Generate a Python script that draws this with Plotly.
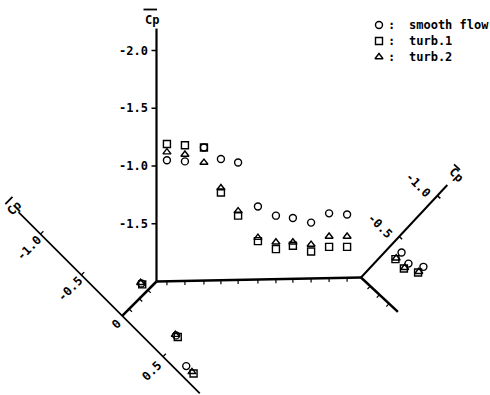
import numpy as np
import plotly.graph_objects as go

# pressure taps: position along each face (fraction of face width) and mean Cp
roof_pos = [0.051, 0.139, 0.232, 0.315, 0.399, 0.496, 0.584, 0.667, 0.756, 0.844, 0.932]
roof_smooth = [-1.05, -1.04, -1.16, -1.06, -1.03, -0.65, -0.57, -0.55, -0.51, -0.59, -0.58]
roof_turb1 = [-1.19, -1.18, -1.16, -0.77, -0.57, -0.35, -0.28, -0.31, -0.26, -0.30, -0.30]
roof_turb2 = [-1.12, -1.10, -1.03, -0.81, -0.61, -0.38, -0.34, -0.34, -0.32, -0.39, -0.39]

left_pos = [0.25, 0.50, 0.80]
left_smooth = [-0.08, 0.45, 0.70]
left_turb1 = [-0.07, 0.47, 0.79]
left_turb2 = [-0.09, 0.44, 0.77]

right_pos = [0.25, 0.50, 0.76]
right_smooth = [-0.41, -0.38, -0.45]
right_turb1 = [-0.33, -0.32, -0.38]
right_turb2 = [-0.34, -0.33, -0.39]

series_names = ["smooth flow", "turb.1", "turb.2"]
series_symbols = ["circle-open", "square-open", "triangle-up-open"]

roof_ticks = [-2.0, -1.5, -1.0, -0.5]
roof_ticktext = ["-2.0", "-1.5", "-1.0", "-1.5"]
left_ticks = [-1.0, -0.5, 0.0, 0.5]
left_ticktext = ["-1.0", "-0.5", "0", "0.5"]
right_ticks = [-0.5, -1.0]
right_ticktext = ["-0.5", "-1.0"]

# drawing geometry (paper pixels)
P0 = np.array([156.5, 281.5])   # roof / left face corner, Cp origin of vertical axis
P1 = np.array([361.0, 277.5])   # roof / right face corner
ROOF_SCALE = 115.5
LEFT_DIR = np.array([-1.0, 1.0]) / np.sqrt(2)
LEFT_CP = np.array([1.0, 1.0]) / np.sqrt(2)
LEFT_LEN = 48.5
LEFT_SCALE = 115.5
RIGHT_DIR = np.array([0.731, 0.682])
RIGHT_CP = np.array([-0.682, 0.731])
RIGHT_LEN = 50.5
RIGHT_SCALE = 112.0

FONT = dict(family="DejaVu Sans Mono", size=12, color="black", weight="bold")


def roof_xy(pos, cp):
    x = P0[0] + np.asarray(pos) * (P1[0] - P0[0])
    y = P0[1] + np.asarray(cp) * ROOF_SCALE
    return x, y


LEFT_END = P0 + LEFT_LEN * LEFT_DIR


def left_xy(pos, cp):
    pts = [P0 + p * LEFT_LEN * LEFT_DIR + c * LEFT_SCALE * LEFT_CP for p, c in zip(pos, cp)]
    pts = np.array(pts)
    return pts[:, 0], pts[:, 1]


def right_xy(pos, cp):
    pts = [P1 + p * RIGHT_LEN * RIGHT_DIR + c * RIGHT_SCALE * RIGHT_CP for p, c in zip(pos, cp)]
    pts = np.array(pts)
    return pts[:, 0], pts[:, 1]


def segs(pairs):
    xs, ys = [], []
    for a, b in pairs:
        xs += [a[0], b[0], None]
        ys += [a[1], b[1], None]
    return xs, ys


fig = go.Figure()


def add_lines(pairs, width):
    xs, ys = segs(pairs)
    fig.add_trace(go.Scatter(x=xs, y=ys, mode="lines", line=dict(color="black", width=width),
                             hoverinfo="skip", showlegend=False))


# vertical Cp axis of roof
top = P0 + np.array([0, -2.19 * ROOF_SCALE])
add_lines([(P0, top)], 2.2)
add_lines([((P0[0] - 5, P0[1] + t * ROOF_SCALE), (P0[0], P0[1] + t * ROOF_SCALE)) for t in roof_ticks], 1.5)

# roof face axis
add_lines([(P0, P1)], 2.5)
rx, _ = roof_xy(roof_pos, np.zeros(len(roof_pos)))
slope = (P1[1] - P0[1]) / (P1[0] - P0[0])
add_lines([((x, P0[1] + slope * (x - P0[0])), (x, P0[1] + slope * (x - P0[0]) + 4)) for x in rx], 1.2)

# left face axis and its Cp axis
add_lines([(P0, LEFT_END)], 2.5)
add_lines([(P0 + p * LEFT_LEN * LEFT_DIR, P0 + p * LEFT_LEN * LEFT_DIR + 4 * LEFT_CP) for p in left_pos], 1.2)
add_lines([(LEFT_END - 1.27 * LEFT_SCALE * LEFT_CP, LEFT_END + 0.95 * LEFT_SCALE * LEFT_CP)], 1.6)
perp_l = np.array([1.0, -1.0]) / np.sqrt(2)
add_lines([(LEFT_END + t * LEFT_SCALE * LEFT_CP, LEFT_END + t * LEFT_SCALE * LEFT_CP + 4 * perp_l)
           for t in left_ticks if t != 0], 1.3)

# right face axis and its Cp axis
RIGHT_END = P1 + RIGHT_LEN * RIGHT_DIR
add_lines([(P1, RIGHT_END)], 2.5)
add_lines([(P1 + p * RIGHT_LEN * RIGHT_DIR, P1 + p * RIGHT_LEN * RIGHT_DIR + 4 * RIGHT_CP) for p in right_pos], 1.2)
add_lines([(P1, P1 - 1.13 * RIGHT_SCALE * RIGHT_CP)], 2.0)
add_lines([(P1 + t * RIGHT_SCALE * RIGHT_CP, P1 + t * RIGHT_SCALE * RIGHT_CP + 4 * RIGHT_DIR)
           for t in right_ticks], 1.5)

# data points
face_data = [
    (roof_xy, roof_pos, [roof_smooth, roof_turb1, roof_turb2]),
    (left_xy, left_pos, [left_smooth, left_turb1, left_turb2]),
    (right_xy, right_pos, [right_smooth, right_turb1, right_turb2]),
]
for proj, pos, values in face_data:
    for name, sym, cp in zip(series_names, series_symbols, values):
        x, y = proj(pos, cp)
        fig.add_trace(go.Scatter(x=x, y=y, mode="markers", name=name, showlegend=False,
                                 marker=dict(symbol=sym, size=7, color="black", line=dict(width=1.4))))

annotations = []
# roof tick labels
for t, txt in zip(roof_ticks, roof_ticktext):
    annotations.append(dict(x=P0[0] - 7, y=P0[1] + t * ROOF_SCALE, text=txt, xanchor="right",
                            yanchor="middle", showarrow=False, font=FONT))
annotations.append(dict(x=152, y=20, text="Cp", showarrow=False, font=FONT))
add_lines([((143.5, 9.5), (157, 9.5))], 1.8)

# left labels
for t, txt in zip(left_ticks, left_ticktext):
    p = LEFT_END + t * LEFT_SCALE * LEFT_CP
    d = 10 if txt == "0" else 18
    p = p + d * LEFT_DIR + np.array([1.5, 1.5])
    annotations.append(dict(x=p[0], y=p[1], text=txt, textangle=-45, showarrow=False, font=FONT))
pl = LEFT_END - 1.32 * LEFT_SCALE * LEFT_CP
annotations.append(dict(x=pl[0], y=pl[1], text="Cp", textangle=-45, showarrow=False, font=FONT))
bar_c = pl + np.array([-5.5, -7.5])
add_lines([(bar_c - 5 * perp_l, bar_c + 5 * perp_l)], 1.8)

# right labels
for t, txt in zip(right_ticks, right_ticktext):
    p = P1 + t * RIGHT_SCALE * RIGHT_CP + np.array([-19, -11])
    annotations.append(dict(x=p[0], y=p[1], text=txt, textangle=45, showarrow=False, font=FONT))
pr = P1 - 1.25 * RIGHT_SCALE * RIGHT_CP
annotations.append(dict(x=pr[0], y=pr[1], text="Cp", textangle=45, showarrow=False, font=FONT))
bar_r = pr + np.array([0.5, -8])
add_lines([(bar_r - 4 * RIGHT_DIR, bar_r + 4 * RIGHT_DIR)], 1.8)

# key
key_y = [25, 41, 57]
fig.add_trace(go.Scatter(x=[379] * 3, y=key_y, mode="markers", showlegend=False, hoverinfo="skip",
                         marker=dict(symbol=series_symbols, size=7, color="black", line=dict(width=1.4))))
for y, name in zip(key_y, series_names):
    annotations.append(dict(x=391, y=y, text=":", xanchor="center", yanchor="middle",
                            showarrow=False, font=FONT))
    annotations.append(dict(x=407, y=y, text=name, xanchor="left", yanchor="middle",
                            showarrow=False, font=FONT))

fig.update_layout(
    width=490, height=395,
    margin=dict(l=0, r=0, t=0, b=0),
    paper_bgcolor="white", plot_bgcolor="white",
    xaxis=dict(range=[0, 490], visible=False, fixedrange=True),
    yaxis=dict(range=[395, 0], visible=False, fixedrange=True),
    annotations=annotations,
    showlegend=False,
)

fig.write_html("out.html", config={"displayModeBar": False},
               post_script="document.body.style.margin='0px';document.body.style.overflow='hidden';")
